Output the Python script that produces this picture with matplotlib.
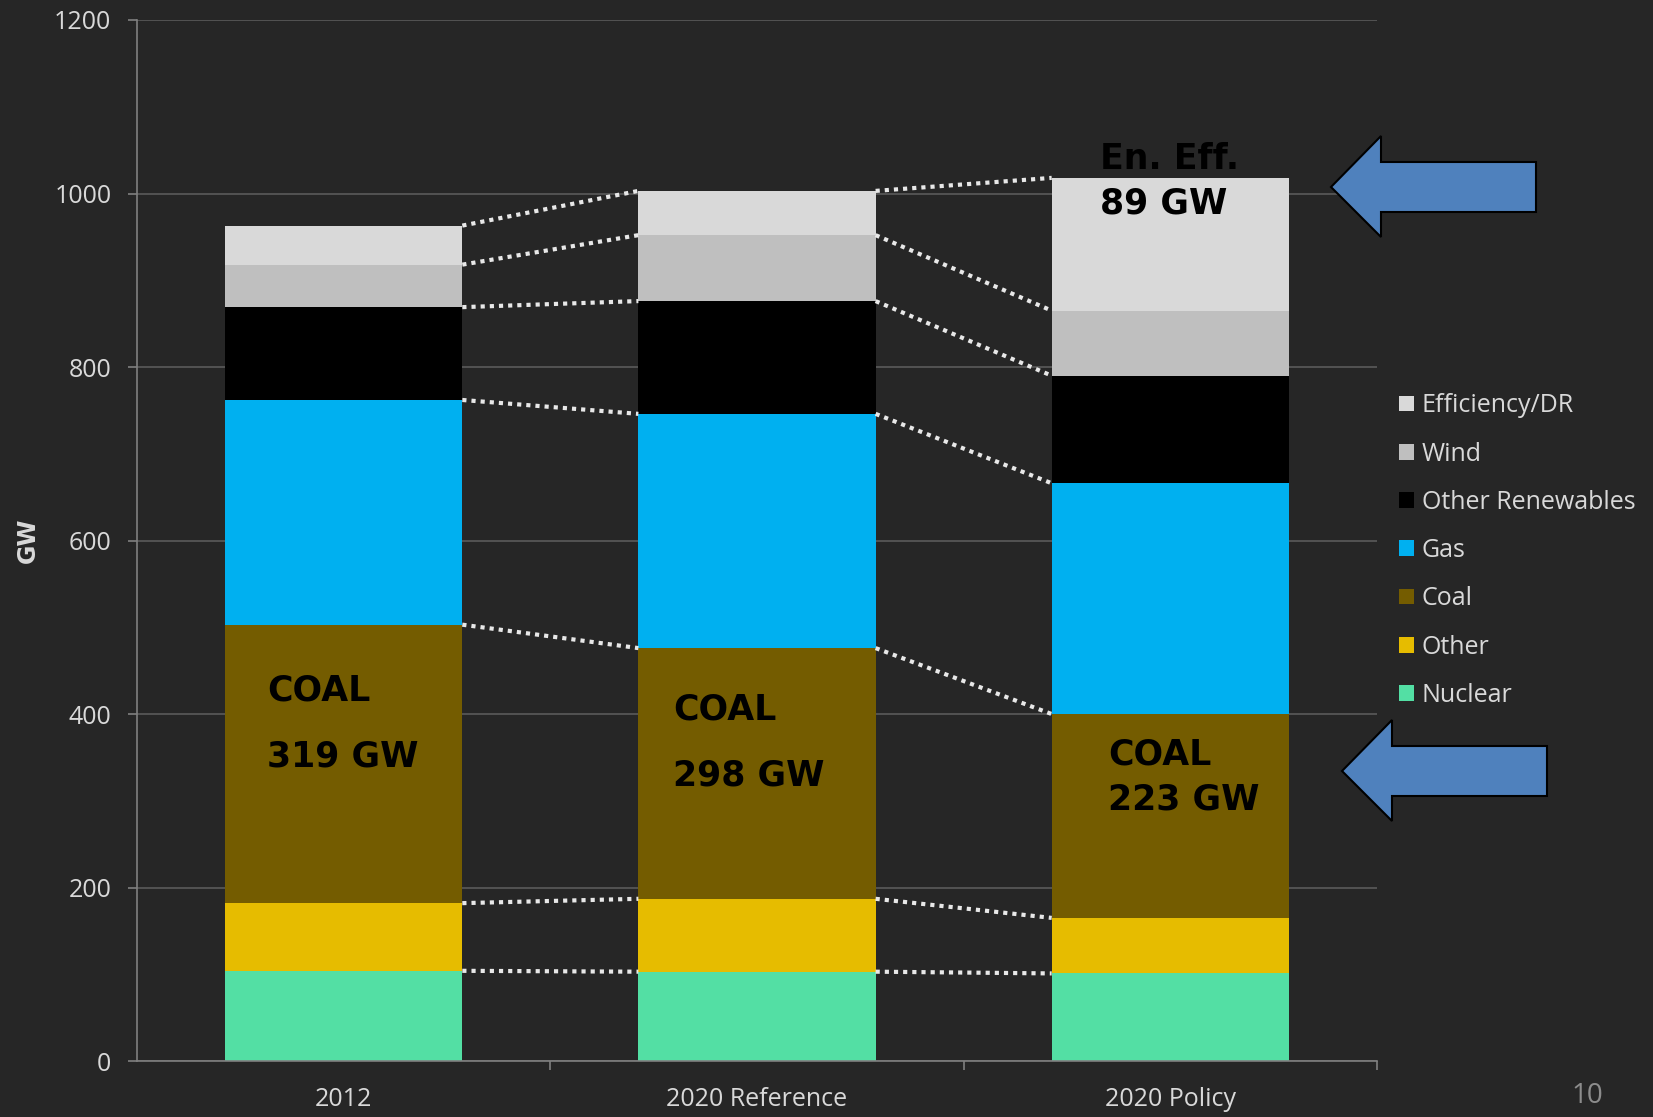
import matplotlib.pyplot as plt
import numpy as np
from matplotlib.patches import Polygon

# data (GW)
scenarios = ['2012', '2020 Reference', '2020 Policy']
series = ['Nuclear', 'Other', 'Coal', 'Gas', 'Other Renewables', 'Wind', 'Efficiency/DR']
nuclear = [104, 103, 101]
other = [78, 84, 64]
coal = [321, 289, 235]
gas = [259, 270, 266]
other_ren = [107, 130, 124]
wind = [49, 76, 75]
eff = [45, 51, 153]
coal_labels = ['319 GW', '298 GW', '223 GW']
colors = ['#53DFA4', '#E6BC00', '#745C00', '#00B0F0', '#000000', '#BFBFBF', '#D9D9D9']

bg = '#262626'
txt = '#D9D9D9'
plt.rcParams['font.family'] = ['Open Sans', 'DejaVu Sans']

fig = plt.figure(figsize=(16.53, 11.17), dpi=100, facecolor=bg)
ax = fig.add_axes([0.0829, 0.0501, 0.7501, 0.932])
ax.set_facecolor(bg)

x = np.arange(len(scenarios))
w = 0.574
data = [nuclear, other, coal, gas, other_ren, wind, eff]
bottom = np.zeros(len(scenarios))
tops = []
for name, vals, c in zip(series, data, colors):
    ax.bar(x, vals, w, bottom=bottom, color=c, label=name, zorder=2)
    bottom = bottom + np.array(vals)
    tops.append(bottom.copy())

# dotted connectors between bars
for t in tops:
    for i in range(len(scenarios) - 1):
        ax.plot([x[i] + w / 2, x[i + 1] - w / 2], [t[i], t[i + 1]], ls=(0, (1, 1.2)),
                color='#E8E8E8', lw=3, zorder=3)

ax.set_xlim(-0.5, 2.5)
ax.set_ylim(0, 1200)
ax.set_yticks(range(0, 1201, 200))
ax.yaxis.grid(True, color='#5A5A5A', lw=1.2, zorder=0)
ax.set_xticks(x)
ax.set_xticklabels(scenarios)
ax.set_xticks([0.5, 1.5, 2.5], minor=True)
ax.tick_params(axis='x', which='major', length=0, pad=19, labelsize=18, labelcolor=txt)
ax.tick_params(axis='x', which='minor', length=6.5, color='#808080', width=1.2)
ax.tick_params(axis='y', length=6.5, color='#808080', width=1.2, labelsize=18, labelcolor=txt, pad=12)
for s in ['top', 'right']:
    ax.spines[s].set_visible(False)
for s in ['left', 'bottom']:
    ax.spines[s].set_color('#808080')
    ax.spines[s].set_linewidth(1.2)
ax.set_ylabel('GW', color=txt, fontsize=17, fontweight='bold', labelpad=10, family='DejaVu Sans')

# coal annotations
coal_pos = [(-0.185, 427, 351), (0.797, 405, 329), (1.849, 353, 302)]
for (xx, y1, y2), lab in zip(coal_pos, coal_labels):
    ax.text(xx, y1, 'COAL', ha='left', va='center', fontsize=25, fontweight='bold',
            color='black', family='DejaVu Sans', zorder=4)
    ax.text(xx, y2, lab, ha='left', va='center', fontsize=25, fontweight='bold',
            color='black', family='DejaVu Sans', zorder=4)
ax.text(1.831, 1040, 'En. Eff.', ha='left', va='center', fontsize=25, fontweight='bold',
        color='black', family='DejaVu Sans', zorder=4)
ax.text(1.831, 989, '89 GW', ha='left', va='center', fontsize=25, fontweight='bold',
        color='black', family='DejaVu Sans', zorder=4)

h, l = ax.get_legend_handles_labels()
leg = ax.legend(h[::-1], l[::-1], loc='upper left', bbox_to_anchor=(1.0, 0.663),
                frameon=False, fontsize=18, labelcolor=txt, handlelength=0.6,
                handleheight=0.6, handletextpad=0.3, labelspacing=0.93)

# block arrows (figure pixel coordinates, from top-left)
W, H = 1653, 1117
arrows = [
    [(1331, 187), (1381, 136), (1381, 162), (1536, 162), (1536, 212), (1381, 212), (1381, 237)],
    [(1342, 771), (1392, 720), (1392, 746), (1547, 746), (1547, 796), (1392, 796), (1392, 821)],
]
for pts in arrows:
    fpts = [(px / W, 1 - py / H) for px, py in pts]
    fig.patches.append(Polygon(fpts, closed=True, facecolor='#4F81BD', edgecolor='black',
                               lw=1.5, transform=fig.transFigure, figure=fig))

fig.text(1587 / W, 1 - 1096 / H, '10', color='#8C8C8C', fontsize=20, ha='center', va='center')

fig.savefig('out.png', dpi=100, facecolor=bg)
